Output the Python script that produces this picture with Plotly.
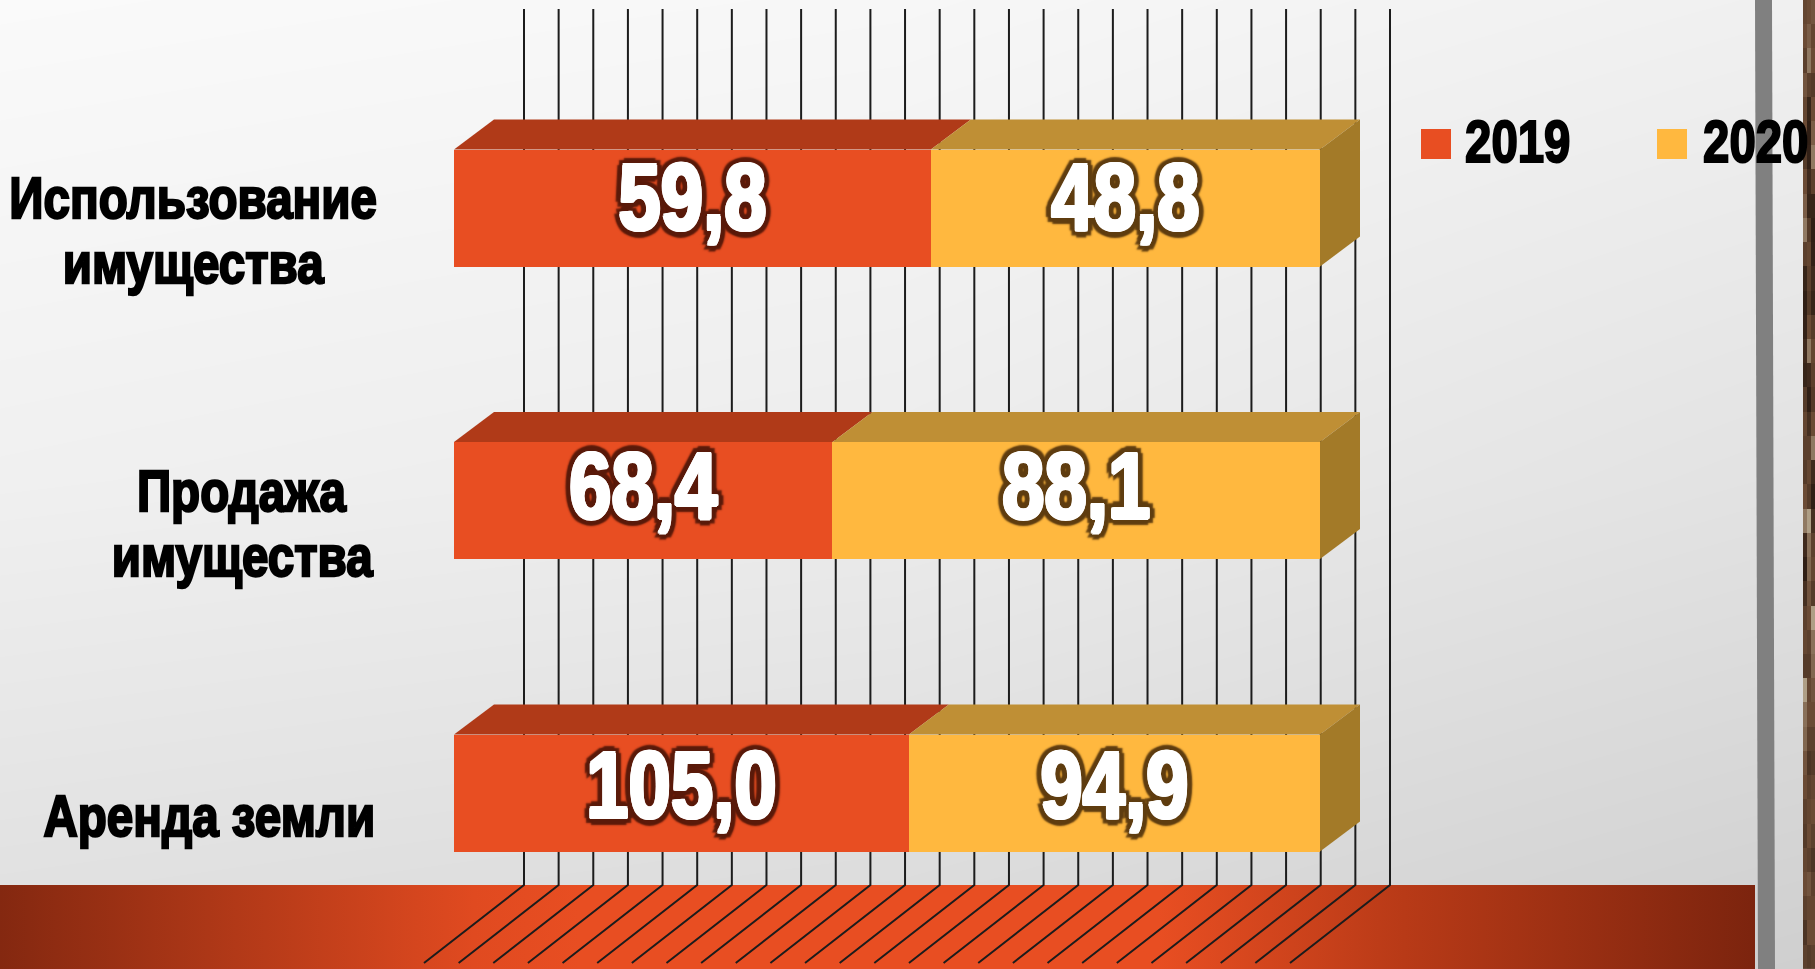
import plotly.graph_objects as go

# ---- data ----
categories = ["Аренда земли", "Продажа\nимущества", "Использование\nимущества"]
row_pos = [0, 1, 2]
values_2019 = [105.0, 68.4, 59.8]
values_2020 = [94.9, 88.1, 48.8]
series_names = ["2019", "2020"]
grid_pct = list(range(0, 101, 4))
photo_tones = [0.45, 0.5, 0.4, 0.55, 0.45, 0.5, 0.35, 0.5, 0.6, 0.75, 0.4, 0.15, 0.1, 0.12, 0.2, 0.15,
               0.35, 0.45, 0.4, 0.35, 0.5, 0.75, 0.2, 0.1, 0.25, 0.4, 0.45, 0.35, 0.95, 0.7, 0.65, 0.55,
               0.5, 0.4, 0.35, 0.45, 0.5, 0.4, 0.3, 0.4]

COL = {"2019": "#E84E22", "2020": "#FFB83F"}
TOP = {"2019": "#B03A18", "2020": "#BF8F35"}
SIDE = "#A37A28"
FONT = "Liberation Sans, Arial, sans-serif"

W, H = 1815, 969
XS = 8.66      # px per percent
YS = 292.5     # px per row
X0, Y0 = 454.0, 793.0
def px(p): return (p - X0) / XS
def py(p): return (Y0 - p) / YS
xr = [px(0), px(W)]
yr = [py(H), py(0)]
BAR_W = 0.4
DX, DY = 40 / XS, 30 / YS

fig = go.Figure()

# page background
fig.add_trace(go.Heatmap(
    x=[px(0), px(900), px(1803)], y=[py(969), py(480), py(0)],
    z=[[222, 217, 207], [240, 236, 226], [250, 247, 240]],
    zmin=0, zmax=255, zsmooth="best", showscale=False, hoverinfo="skip",
    colorscale=[[0, "#000000"], [1, "#ffffff"]]))

# photo strip on the right edge
n = len(photo_tones)
fig.add_trace(go.Heatmap(
    z=[[t, photo_tones[(i + 7) % n], photo_tones[(i + 3) % n]] for i, t in enumerate(photo_tones)],
    x0=px(1805), dx=4 / XS, y0=py(12), dy=-24.225 / YS,
    zmin=0, zmax=1, showscale=False, hoverinfo="skip",
    colorscale=[[0, "#21140d"], [0.5, "#6b4b35"], [1, "#b5a78e"]]))

# bottom band
fig.add_trace(go.Scatter(
    x=[px(0), px(1755), px(1755), px(0), px(0)], y=[py(885), py(885), py(969), py(969), py(885)],
    mode="none", fill="toself", hoverinfo="skip", showlegend=False,
    fillgradient=dict(type="horizontal", colorscale=[
        [0, "#842810"], [0.27, "#e04a20"], [0.33, "#E84E22"], [0.66, "#E84E22"],
        [0.8, "#b83a17"], [1, "#7c240e"]])))

# grey vertical strip
fig.add_trace(go.Scatter(
    x=[px(1755), px(1772), px(1775), px(1758), px(1755)], y=[py(0), py(0), py(969), py(969), py(0)],
    mode="none", fill="toself", fillcolor="#808080", hoverinfo="skip", showlegend=False))

# back wall and floor grid, from the percent scale
gx, gy = [], []
for g in grid_pct:
    x = g + 70 / XS
    gx += [x, x, x - 100 / XS, None]
    gy += [py(9), py(885), py(963), None]
fig.add_trace(go.Scatter(x=gx, y=gy, mode="lines", line=dict(color="#1c1c1c", width=2),
                         hoverinfo="skip", showlegend=False))

# bars
for name, vals in zip(series_names, [values_2019, values_2020]):
    fig.add_trace(go.Bar(x=vals, y=row_pos, orientation="h", name=name, width=BAR_W,
                         marker=dict(color=COL[name], line=dict(width=0)),
                         showlegend=False, xaxis="x2", yaxis="y2"))

# 3D faces
for r, a, b in zip(row_pos, values_2019, values_2020):
    split = 100 * a / (a + b)
    top = r + BAR_W / 2
    bot = r - BAR_W / 2
    for name, s0, s1 in [("2019", 0, split), ("2020", split, 100)]:
        fig.add_trace(go.Scatter(
            x=[s0, s1, s1 + DX, s0 + DX, s0], y=[top, top, top + DY, top + DY, top],
            mode="none", fill="toself", fillcolor=TOP[name], hoverinfo="skip",
            showlegend=False, xaxis="x2", yaxis="y2"))
    fig.add_trace(go.Scatter(
        x=[100, 100 + DX, 100 + DX, 100, 100], y=[bot, bot + DY, top + DY, top, bot],
        mode="none", fill="toself", fillcolor=SIDE, hoverinfo="skip",
        showlegend=False, xaxis="x2", yaxis="y2"))

def glow(c):
    t = [f"{dx}px {dy}px 0 #fff" for dx, dy in
         [(2, 0), (-2, 0), (0, 1.5), (0, -1.5), (1.5, 1.2), (-1.5, 1.2), (1.5, -1.2), (-1.5, -1.2)]]
    g = [f"{dx}px {dy}px 2px {c}" for dx, dy in
         [(8, 0), (-8, 0), (0, 7), (0, -7), (6, 5), (-6, 5), (6, -5), (-6, -5),
          (4, 0), (-4, 0), (0, 4), (0, -4)]]
    return ", ".join(t + g)

# value labels
fmt = lambda v: f"{v:.1f}".replace(".", ",")
LABEL_LIFT = [-1 / YS, 6 / YS, 2 / YS]
xa, xb, ya = [], [], []
for r, a, b, lift in zip(row_pos, values_2019, values_2020, LABEL_LIFT):
    split = 100 * a / (a + b)
    xa.append(split / 2)
    xb.append((split + 100) / 2)
    ya.append(r + lift)
fig.add_trace(go.Scatter(
    x=xa, y=ya, mode="text", text=[fmt(v) for v in values_2019], textposition="middle center",
    textfont=dict(family=FONT, size=94, color="#ffffff", weight="bold", shadow=glow("#5a1a0a")),
    hoverinfo="skip", showlegend=False, xaxis="x2", yaxis="y2"))
fig.add_trace(go.Scatter(
    x=xb, y=ya, mode="text", text=[fmt(v) for v in values_2020], textposition="middle center",
    textfont=dict(family=FONT, size=94, color="#ffffff", weight="bold", shadow=glow("#5f3d10")),
    hoverinfo="skip", showlegend=False, xaxis="x2", yaxis="y2"))

# legend keys
for name, kx in zip(series_names, [1436, 1672]):
    fig.add_trace(go.Scatter(
        x=[px(kx)], y=[py(144)], mode="markers",
        marker=dict(symbol="square", size=30, color=COL[name], line=dict(width=0)),
        hoverinfo="skip", showlegend=False, xaxis="x2", yaxis="y2"))

cat_font = dict(family=FONT, size=58, color="#000000", weight="bold")
leg_font = dict(family=FONT, size=60, color="#000000", weight="bold")
ann = []
label_cx = {0: 209, 1: 242, 2: 193}
for r, cat in zip(row_pos, categories):
    lines = cat.split("\n")
    base = [45] if len(lines) == 1 else [12, 77]
    for line, b in zip(lines, base):
        ann.append(dict(x=px(label_cx[r]), y=r - b / YS, text=line, xref="x", yref="y",
                        showarrow=False, xanchor="center", yanchor="bottom", yshift=-12, font=cat_font))
for name, tx in zip(series_names, [1517, 1755]):
    ann.append(dict(x=px(tx), y=py(163), text=name, xref="x", yref="y", showarrow=False,
                    xanchor="center", yanchor="bottom", yshift=-14, font=leg_font))

axis = dict(visible=False, showgrid=False, zeroline=False, fixedrange=True)
fig.update_layout(
    width=W, height=H, margin=dict(l=0, r=0, t=0, b=0),
    paper_bgcolor="#e6e6e6", plot_bgcolor="rgba(0,0,0,0)",
    barmode="stack", barnorm="percent", bargap=0, showlegend=False,
    xaxis=dict(range=xr, **axis), yaxis=dict(range=yr, **axis),
    xaxis2=dict(range=xr, overlaying="x", **axis),
    yaxis2=dict(range=yr, overlaying="y", **axis),
    annotations=ann)

# condense the installed bold face into the reference's heavy narrow look
POST = """
document.body.style.margin='0';document.documentElement.style.overflow='hidden';
(function(){
  var F={94:[0.81,0],58:[0.82,2.4],60:[0.79,2.2]};
  function run(){
    var els=document.querySelectorAll('text.annotation-text, .textpoint text');
    if(!els.length){setTimeout(run,20);return;}
    els.forEach(function(t){
      var s=Math.round(parseFloat(t.style.fontSize)), f=F[s]; if(!f) return;
      t.setAttribute('lengthAdjust','spacingAndGlyphs');
      t.setAttribute('textLength',t.getComputedTextLength()*f[0]);
      if(f[1]){t.style.stroke=t.style.fill; t.style.strokeWidth=f[1]+'px';}
    });
  }
  run();
})();
"""
fig.write_html("out.html", post_script=POST, config={"displayModeBar": False})
